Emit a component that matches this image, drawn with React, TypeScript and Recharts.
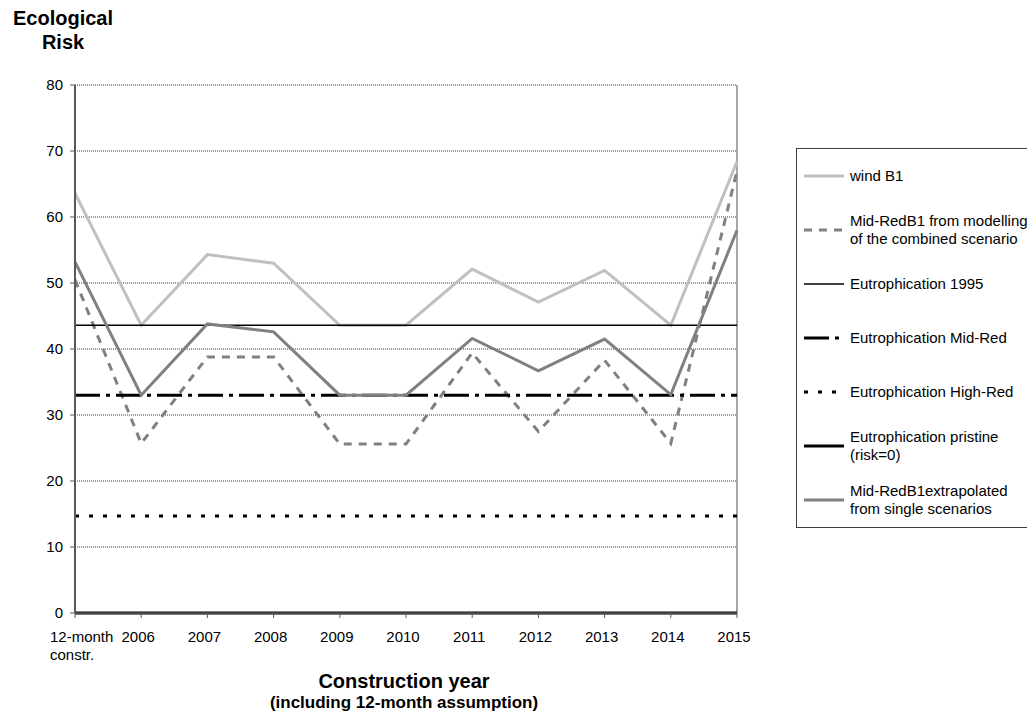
import React from 'react';
import {
  LineChart,
  Line,
  XAxis,
  YAxis,
  CartesianGrid,
  ReferenceLine,
  Legend
} from 'recharts';

const categories = ['12-month constr.', '2006', '2007', '2008', '2009', '2010', '2011', '2012', '2013', '2014', '2015'];
const windB1 = [63.6, 43.6, 54.3, 53.0, 43.6, 43.6, 52.1, 47.1, 51.9, 43.6, 68.4];
const midRedModelled = [50.5, 25.7, 38.8, 38.8, 25.6, 25.6, 39.4, 27.5, 38.3, 25.7, 67.0];
const eutro1995 = [43.6, 43.6, 43.6, 43.6, 43.6, 43.6, 43.6, 43.6, 43.6, 43.6, 43.6];
const eutroMidRed = [33.0, 33.0, 33.0, 33.0, 33.0, 33.0, 33.0, 33.0, 33.0, 33.0, 33.0];
const eutroHighRed = [14.7, 14.7, 14.7, 14.7, 14.7, 14.7, 14.7, 14.7, 14.7, 14.7, 14.7];
const eutroPristine = [0, 0, 0, 0, 0, 0, 0, 0, 0, 0, 0];
const midRedExtrapolated = [53.2, 33.0, 43.8, 42.6, 33.0, 33.0, 41.6, 36.7, 41.5, 33.1, 58.0];
const yTicks = [0, 10, 20, 30, 40, 50, 60, 70, 80];

const FONT = 'Arial, "Liberation Sans", sans-serif';

const series = [
  { key: 'wind', label: ['wind B1'], stroke: '#c0c0c0', width: 3, dash: undefined },
  { key: 'modelled', label: ['Mid-RedB1 from modelling', 'of the combined scenario'], stroke: '#808080', width: 3, dash: '8 7' },
  { key: 'e1995', label: ['Eutrophication 1995'], stroke: '#000000', width: 1.3, dash: undefined },
  { key: 'eMid', label: ['Eutrophication Mid-Red'], stroke: '#000000', width: 3, dash: '25 6 4 6' },
  { key: 'eHigh', label: ['Eutrophication High-Red'], stroke: '#000000', width: 3, dash: '4 10' },
  { key: 'ePristine', label: ['Eutrophication pristine', '(risk=0)'], stroke: '#000000', width: 3, dash: undefined },
  { key: 'extrap', label: ['Mid-RedB1extrapolated', 'from single scenarios'], stroke: '#808080', width: 3, dash: undefined }
];

const data = categories.map((name, i) => ({
  name,
  wind: windB1[i],
  modelled: midRedModelled[i],
  e1995: eutro1995[i],
  eMid: eutroMidRed[i],
  eHigh: eutroHighRed[i],
  ePristine: eutroPristine[i],
  extrap: midRedExtrapolated[i]
}));

const XTick = ({ x, y, payload }: any) => {
  if (payload.index === 0) {
    return (
      <text x={x - 25} y={y} fontSize={15} fontFamily={FONT} fill="#000" textAnchor="start">
        <tspan x={x - 25} dy={22}>12-month</tspan>
        <tspan x={x - 25} dy={18}>constr.</tspan>
      </text>
    );
  }
  return (
    <text x={x - 3} y={y} dy={22} fontSize={15} fontFamily={FONT} fill="#000" textAnchor="middle">
      {payload.value}
    </text>
  );
};

const LegendBox = () => (
  <div
    style={{
      border: '1.5px solid #404040',
      width: 260,
      height: 380,
      boxSizing: 'border-box',
      background: '#fff',
      display: 'flex',
      flexDirection: 'column',
      fontFamily: FONT,
      fontSize: 15,
      color: '#000'
    }}
  >
    {series.map(s => (
      <div key={s.key} style={{ flex: 1, display: 'flex', alignItems: 'center', whiteSpace: 'nowrap' }}>
        <svg width={53} height={20} style={{ flexShrink: 0 }}>
          <line x1={7} y1={10} x2={47} y2={10} stroke={s.stroke} strokeWidth={s.width} strokeDasharray={s.dash} />
        </svg>
        <div style={{ lineHeight: '18px' }}>
          {s.label.map(t => (
            <div key={t}>{t}</div>
          ))}
        </div>
      </div>
    ))}
  </div>
);

export default function App() {
  return (
    <div
      style={{
        position: 'absolute',
        left: 0,
        top: 0,
        width: 1027,
        height: 715,
        overflow: 'hidden',
        background: '#fff',
        fontFamily: FONT
      }}
    >
      <LineChart width={1027} height={715} data={data} margin={{ top: 85, right: 290, bottom: 42, left: 15 }}>
        <CartesianGrid vertical={false} stroke="#000" strokeWidth={0.8} strokeDasharray="1 1" />
        <XAxis
          dataKey="name"
          height={60}
          axisLine={{ stroke: '#595959', strokeWidth: 1.5 }}
          tickLine={{ stroke: '#595959' }}
          tickSize={5}
          tick={<XTick />}
          interval={0}
        />
        <YAxis
          width={60}
          domain={[0, 80]}
          ticks={yTicks}
          interval={0}
          axisLine={{ stroke: '#595959', strokeWidth: 2 }}
          tickLine={{ stroke: '#595959' }}
          tickSize={5}
          tickMargin={7}
          tick={{ fontSize: 15, fill: '#000', fontFamily: FONT }}
        />
        <ReferenceLine x="2015" stroke="#a6a6a6" strokeWidth={2} />
        {series.map(s => (
          <Line
            key={s.key}
            type="linear"
            dataKey={s.key}
            stroke={s.stroke}
            strokeWidth={s.width}
            strokeDasharray={s.dash}
            dot={false}
            activeDot={false}
            isAnimationActive={false}
          />
        ))}
        <Legend
          layout="horizontal"
          verticalAlign="middle"
          align="center"
          content={<LegendBox />}
          wrapperStyle={{ position: 'absolute', left: 796, top: 148, width: 260 }}
        />
      </LineChart>
      <svg
        width={1027}
        height={715}
        style={{ position: 'absolute', left: 0, top: 0, pointerEvents: 'none' }}
      >
        <text x={63} y={25} textAnchor="middle" fontSize={20} fontWeight="bold" fontFamily={FONT}>Ecological</text>
        <text x={63} y={49} textAnchor="middle" fontSize={20} fontWeight="bold" fontFamily={FONT}>Risk</text>
        <text x={404} y={688} textAnchor="middle" fontSize={20} fontWeight="bold" fontFamily={FONT}>Construction year</text>
        <text x={404} y={708} textAnchor="middle" fontSize={17} fontWeight="bold" fontFamily={FONT}>(including 12-month assumption)</text>
      </svg>
    </div>
  );
}
